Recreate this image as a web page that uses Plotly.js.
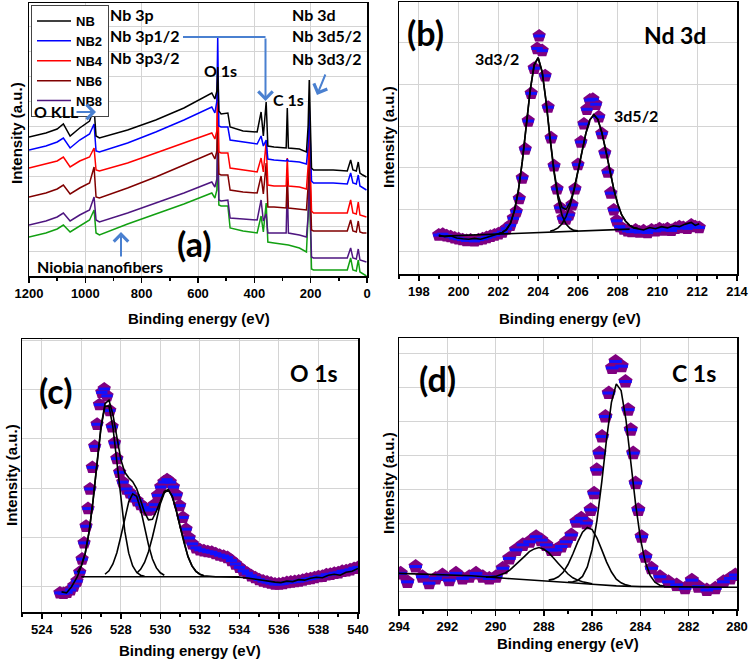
<!DOCTYPE html>
<html>
<head>
<meta charset="utf-8">
<script src="https://cdn.plot.ly/plotly-3.0.1.min.js"></script>
<style>
  html, body { margin: 0; padding: 0; background: #fff; }
  #chart { width: 750px; height: 662px; }
</style>
</head>
<body>
<div id="chart"></div>
<script>
// (a) survey spectra, binding energy (eV) and intensity (a.u., offset stacked)
const surveyBE = [1200,1140,1100,1078,1054,1020,985,969,962,950,850,750,650,551,540,533,530,526,518,494,486,440,390,376,368,358,352,330,287,283,279,240,215,209,205,197,190,120,70,58,50,38,31,25,15,2];
const surveyNB  = [139,143,147,152,140,148,155,168,140,138,146,156,168,183,177,185,209,165,162,163,149,145,144,164,140,174,130,129,128,168,128,127,124,150,196,108,106,106,105,116,106,105,114,103,101,99];
const surveyNB2 = [126,130,134,138,128,136,142,152,125,124,133,144,156,169,163,175,239,150,149,149,136,134,132,140,130,136,117,116,115,117,115,114,112,130,170,95,93,93,92,103,93,92,101,90,88,86];
const surveyNB4 = [108,112,115,119,109,115,119,128,106,105,113,123,133,143,137,145,200,124,123,123,108,106,104,118,104,134,91,90,90,118,90,89,87,110,150,65,63,63,63,76,63,62,74,61,60,59];
const surveyNB6 = [79,83,87,91,82,88,93,109,79,78,88,99,111,123,117,125,175,102,101,101,86,84,83,100,82,113,69,69,68,100,68,67,66,90,125,46,45,45,45,56,45,44,55,44,43,43];
const surveyNB8 = [51,55,59,63,55,61,66,79,56,54,63,73,83,94,89,97,150,76,75,76,58,57,56,76,55,62,43,43,43,91,43,41,39,60,100,19,18,18,18,28,18,17,27,16,15,14];
const surveyFiber = [39,43,47,51,44,50,56,66,43,41,52,62,72,83,78,86,134,71,70,70,48,45,43,60,44,73,34,33,31,31,31,28,24,60,93,7,6,6,6,18,6,5,16,4,2,0];

// (b) Nd 3d
const nd3dBE = [199.0,199.2,199.4,199.6,199.8,200.0,200.2,200.4,200.6,200.8,201.0,201.2,201.4,201.6,201.8,202.0,202.2,202.4,202.6,202.75,202.9,203.05,203.2,203.35,203.5,203.65,203.8,203.95,204.05,204.2,204.35,204.5,204.65,204.8,204.95,205.1,205.25,205.4,205.55,205.7,205.85,206.0,206.15,206.3,206.45,206.6,206.75,206.9,207.05,207.2,207.35,207.5,207.65,207.8,207.95,208.1,208.3,208.5,208.7,208.9,209.1,209.3,209.5,209.7,209.9,210.1,210.3,210.5,210.7,210.9,211.1,211.3,211.5,211.7,211.9,212.1];
const nd3dCounts = [0.40,0.42,0.38,0.36,0.33,0.31,0.29,0.27,0.28,0.26,0.29,0.31,0.34,0.37,0.40,0.43,0.47,0.55,0.63,0.80,0.96,1.27,1.76,2.45,3.12,3.78,4.38,4.85,5.15,4.80,4.20,3.45,2.72,2.05,1.50,1.05,0.80,0.78,0.88,1.12,1.50,2.08,2.62,3.05,3.40,3.62,3.64,3.52,3.22,2.82,2.36,1.90,1.40,1.00,0.74,0.60,0.54,0.50,0.48,0.52,0.47,0.50,0.46,0.52,0.50,0.55,0.52,0.55,0.51,0.56,0.60,0.58,0.56,0.64,0.60,0.58];
const nd3dPeak1BE = [202.0,202.2,202.4,202.6,202.8,203.0,203.2,203.4,203.6,203.8,204.0,204.2,204.4,204.6,204.8,205.0,205.2,205.4,205.6,205.8,206.0];
const nd3dPeak1 = [0.43,0.46,0.53,0.67,0.97,1.45,2.15,3.01,3.86,4.46,4.63,4.29,3.57,2.69,1.89,1.27,0.87,0.66,0.56,0.51,0.50];
const nd3dPeak2BE = [204.6,204.8,205.0,205.2,205.4,205.6,205.8,206.0,206.2,206.4,206.6,206.8,207.0,207.2,207.4,207.6,207.8,208.0,208.2,208.4,208.6,208.8,209.0];
const nd3dPeak2 = [0.49,0.52,0.57,0.67,0.84,1.10,1.46,1.90,2.39,2.83,3.15,3.27,3.16,2.85,2.42,1.94,1.50,1.14,0.88,0.73,0.63,0.58,0.56];
const nd3dEnvBE = [199.0,199.3,199.6,199.9,200.2,200.5,200.8,201.1,201.4,201.7,202.0,202.2,202.4,202.6,202.8,203.0,203.2,203.4,203.6,203.8,204.0,204.2,204.4,204.6,204.8,205.0,205.2,205.4,205.6,205.8,206.0,206.2,206.4,206.6,206.8,207.0,207.2,207.4,207.6,207.8,208.0,208.2,208.4,208.6,208.8,209.0,209.3,209.6,209.9,210.2,210.5,210.8,211.1,211.4,211.7,211.9,212.1];
const nd3dEnv = [0.40,0.36,0.38,0.33,0.31,0.30,0.32,0.30,0.34,0.38,0.43,0.46,0.53,0.67,0.97,1.45,2.15,3.01,3.86,4.46,4.63,4.29,3.58,2.71,1.93,1.36,1.06,1.01,1.17,1.48,1.91,2.39,2.83,3.15,3.27,3.16,2.85,2.42,1.94,1.50,1.14,0.88,0.73,0.63,0.57,0.55,0.52,0.58,0.55,0.60,0.57,0.62,0.60,0.66,0.70,0.63,0.67];
const nd3dBgBE = [199.0,208.6];
const nd3dBg = [0.37,0.54];

// (c) O 1s
const o1sBE = [524.92,525.1,525.28,525.46,525.62,525.78,525.92,526.04,526.14,526.24,526.34,526.44,526.56,526.68,526.8,526.92,527.04,527.16,527.3,527.44,527.56,527.68,527.8,527.94,528.1,528.28,528.46,528.64,528.82,529.0,529.18,529.36,529.54,529.7,529.86,530.02,530.18,530.34,530.5,530.66,530.82,530.98,531.14,531.3,531.46,531.62,531.8,532.0,532.2,532.4,532.6,532.8,533.0,533.2,533.4,533.6,533.8,534.0,534.2,534.4,534.6,534.8,535.0,535.2,535.4,535.6,535.8,536.0,536.2,536.4,536.6,536.8,537.0,537.2,537.4,537.6,537.8,538.0,538.2,538.4,538.6,538.8,539.0,539.2,539.4,539.6,539.8,540.0];
const o1sCounts = [-0.14,-0.15,-0.13,-0.08,0.00,0.10,0.28,0.55,0.88,1.22,1.58,1.98,2.42,2.85,3.30,3.70,3.95,4.02,3.88,3.58,3.25,2.92,2.60,2.32,2.12,1.98,1.90,1.82,1.74,1.66,1.60,1.55,1.56,1.66,1.85,2.02,2.12,2.17,2.12,2.02,1.86,1.64,1.40,1.16,0.98,0.86,0.78,0.74,0.72,0.70,0.69,0.66,0.63,0.61,0.58,0.52,0.45,0.38,0.31,0.26,0.21,0.17,0.13,0.10,0.08,0.06,0.04,0.04,0.05,0.07,0.08,0.09,0.10,0.12,0.14,0.15,0.17,0.19,0.20,0.23,0.24,0.26,0.27,0.30,0.31,0.33,0.36,0.38];
const o1sPeak1BE = [525.8,526.0,526.2,526.4,526.6,526.8,527.0,527.2,527.4,527.6,527.8,528.0,528.2,528.4,528.6,528.8,529.0,529.2];
const o1sPeak1 = [0.28,0.41,0.67,1.12,1.76,2.53,3.24,3.67,3.67,3.24,2.53,1.76,1.12,0.67,0.41,0.28,0.22,0.20];
const o1sPeak2BE = [527.2,527.4,527.6,527.8,528.0,528.2,528.4,528.6,528.8,529.0,529.2,529.4,529.6,529.8,530.0,530.2];
const o1sPeak2 = [0.24,0.31,0.45,0.68,1.01,1.39,1.72,1.88,1.83,1.57,1.20,0.84,0.55,0.37,0.27,0.22];
const o1sPeak3BE = [528.8,529.0,529.2,529.4,529.6,529.8,530.0,530.2,530.4,530.6,530.8,531.0,531.2,531.4,531.6,531.8,532.0,532.2];
const o1sPeak3 = [0.26,0.34,0.48,0.70,1.00,1.35,1.68,1.90,1.96,1.83,1.55,1.21,0.88,0.60,0.41,0.30,0.24,0.21];
const o1sEnvBE = [525.0,525.25,525.5,525.8,526.0,526.2,526.4,526.6,526.8,527.0,527.2,527.4,527.6,527.8,528.0,528.2,528.4,528.6,528.8,529.0,529.2,529.4,529.6,529.8,530.0,530.2,530.4,530.6,530.8,531.0,531.2,531.4,531.6,531.8,532.0,532.2,532.4,532.6,532.8,533.0,533.5,534.0,534.3,534.6,534.9,535.2,535.5,535.8,536.1,536.4,536.7,537.0,537.3,537.6,537.9,538.2,538.5,538.8,539.1,539.4,539.7,540.0];
const o1sEnv = [-0.12,-0.14,-0.02,0.19,0.41,0.67,1.12,1.76,2.53,3.26,3.72,3.79,3.50,3.02,2.58,2.32,2.21,2.13,1.99,1.75,1.50,1.35,1.36,1.53,1.75,1.93,1.97,1.83,1.55,1.21,0.88,0.60,0.41,0.30,0.24,0.21,0.20,0.19,0.19,0.19,0.19,0.18,0.17,0.15,0.14,0.12,0.10,0.08,0.07,0.10,0.09,0.13,0.12,0.16,0.18,0.17,0.22,0.24,0.22,0.28,0.30,0.36];
const o1sBgBE = [526.0,534.0];
const o1sBg = [0.19,0.19];

// (d) C 1s
const c1sBE = [293.93,293.65,293.31,293.03,292.75,292.48,292.2,291.92,291.64,291.37,291.09,290.81,290.53,290.26,289.98,289.7,289.43,289.15,288.87,288.59,288.32,288.11,287.9,287.69,287.49,287.28,287.07,286.86,286.65,286.45,286.24,286.06,285.92,285.81,285.7,285.59,285.45,285.31,285.17,285.03,284.78,284.62,284.51,284.4,284.3,284.2,284.09,283.95,283.79,283.54,283.19,282.84,282.5,282.15,281.87,281.6,281.25,280.9,280.56,280.28,280.07];
const c1sCounts = [0.54,0.29,0.74,0.44,0.25,0.39,0.49,0.34,0.54,0.39,0.44,0.54,0.44,0.39,0.44,0.69,0.98,1.23,1.38,1.47,1.62,1.52,1.38,1.23,1.23,1.33,1.47,1.67,2.06,2.16,2.02,2.41,2.90,3.59,4.08,4.57,5.16,5.85,6.59,6.78,6.64,6.19,5.36,4.77,4.08,3.20,2.41,1.62,1.03,0.69,0.44,0.29,0.20,0.10,0.34,0.15,0.05,0.10,0.29,0.39,0.49];
const c1sPeak1BE = [283.0,283.2,283.4,283.6,283.8,284.0,284.2,284.4,284.6,284.8,285.0,285.2,285.4,285.6,285.8,286.0,286.2,286.4,286.6,286.8,287.0];
const c1sPeak1 = [0.16,0.19,0.28,0.48,0.87,1.56,2.58,3.85,5.07,5.92,6.12,5.58,4.51,3.24,2.10,1.25,0.73,0.45,0.33,0.29,0.28];
const c1sPeak2BE = [284.4,284.6,284.8,285.0,285.2,285.4,285.6,285.8,286.0,286.2,286.4,286.6,286.8,287.0,287.2,287.4,287.6,287.8];
const c1sPeak2 = [0.17,0.20,0.26,0.37,0.58,0.87,1.23,1.58,1.83,1.89,1.75,1.46,1.11,0.80,0.57,0.44,0.37,0.34];
const c1sPeak3BE = [286.0,286.2,286.4,286.6,286.8,287.0,287.2,287.4,287.6,287.8,288.0,288.2,288.4,288.6,288.8,289.0,289.2,289.4,289.6,289.8,290.0,290.2,290.4];
const c1sPeak3 = [0.23,0.25,0.29,0.34,0.41,0.52,0.66,0.83,0.99,1.15,1.25,1.30,1.26,1.18,1.04,0.90,0.76,0.64,0.55,0.49,0.45,0.44,0.43];
const c1sBgBE = [294,291,289.5,288,287,286,285,284,282,280];
const c1sBg = [0.54,0.47,0.39,0.33,0.27,0.22,0.17,0.15,0.14,0.13];

const W = 750, H = 662;
const X = px => px / W;        // pixel -> paper
const Y = py => 1 - py / H;

const tickFont = { family: 'Liberation Sans, Arial, sans-serif', size: 13, color: '#000', weight: 'bold' };
const labelFont = 'Lato, Liberation Sans, sans-serif';
const purple = '#800080';
const arrowBlue = '#4a80d0';

function survey(y, name, color, showlegend) {
    return { x: surveyBE, y: y, name: name, type: 'scatter', mode: 'lines',
             line: { color: color, width: 1.5 }, xaxis: 'x', yaxis: 'y', showlegend: showlegend };
}

// purple pentagons with a blue dash inside, same points twice
function markers(x, y, ax, size) {
    return [
        { x: x, y: y, type: 'scatter', mode: 'markers', xaxis: 'x' + ax, yaxis: 'y' + ax, showlegend: false,
          marker: { symbol: 'pentagon', size: size, color: purple } },
        { x: x, y: y, type: 'scatter', mode: 'markers', xaxis: 'x' + ax, yaxis: 'y' + ax, showlegend: false,
          marker: { symbol: 'line-ew', size: size - 6, line: { color: '#1010ff', width: 3 } } }
    ];
}

function fitLine(x, y, ax) {
    return { x: x, y: y, type: 'scatter', mode: 'lines', xaxis: 'x' + ax, yaxis: 'y' + ax, showlegend: false,
             line: { color: '#000', width: 1.6 } };
}

const data = [
    survey(surveyFiber, 'Niobia nanofibers', '#12a012', false),
    survey(surveyNB8, 'NB8', '#4e1680', true),
    survey(surveyNB6, 'NB6', '#800000', true),
    survey(surveyNB4, 'NB4', '#ff0000', true),
    survey(surveyNB2, 'NB2', '#0000ff', true),
    survey(surveyNB, 'NB', '#000000', true),
    ...markers(nd3dBE, nd3dCounts, 2, 14),
    fitLine(nd3dBgBE, nd3dBg, 2),
    fitLine(nd3dPeak1BE, nd3dPeak1, 2),
    fitLine(nd3dPeak2BE, nd3dPeak2, 2),
    fitLine(nd3dEnvBE, nd3dEnv, 2),
    ...markers(o1sBE, o1sCounts, 3, 14),
    fitLine(o1sBgBE, o1sBg, 3),
    fitLine(o1sPeak1BE, o1sPeak1, 3),
    fitLine(o1sPeak2BE, o1sPeak2, 3),
    fitLine(o1sPeak3BE, o1sPeak3, 3),
    fitLine(o1sEnvBE, o1sEnv, 3),
    ...markers(c1sBE, c1sCounts, 4, 15),
    fitLine(c1sBgBE, c1sBg, 4),
    fitLine(c1sPeak1BE, c1sPeak1, 4),
    fitLine(c1sPeak2BE, c1sPeak2, 4),
    fitLine(c1sPeak3BE, c1sPeak3, 4)
];

function xAxis(left, right, range, dtick, anchor) {
    return {
        domain: [X(left), X(right)], range: range, anchor: anchor,
        dtick: dtick, tick0: 0, ticks: 'outside', ticklen: 5, tickwidth: 1.5, tickcolor: '#000',
        minor: { dtick: dtick / 2, ticks: 'outside', ticklen: 3, tickcolor: '#000', showgrid: false },
        showline: true, mirror: true, linecolor: '#000', linewidth: 1.5,
        showgrid: true, gridcolor: '#d4d4d4', gridwidth: 1, zeroline: false,
        tickfont: tickFont
    };
}

function yAxis(top, bottom, range, dtick, anchor) {
    return {
        domain: [Y(bottom), Y(top)], range: range, anchor: anchor,
        dtick: dtick, tick0: 0, ticks: '', showticklabels: false,
        showline: true, mirror: true, linecolor: '#000', linewidth: 1.5,
        showgrid: true, gridcolor: '#d4d4d4', gridwidth: 1, zeroline: false
    };
}

function label(text, px, py, size, anchor) {
    return { text: text, x: X(px), y: Y(py), xref: 'paper', yref: 'paper', showarrow: false,
             xanchor: anchor || 'center', yanchor: 'middle',
             font: { family: labelFont, size: size, color: '#000', weight: 'bold' } };
}

function axisTitle(text, px, py, angle) {
    return { text: text, x: X(px), y: Y(py), xref: 'paper', yref: 'paper', showarrow: false,
             xanchor: 'center', yanchor: 'middle', textangle: angle || 0,
             font: { family: 'Liberation Sans, Arial, sans-serif', size: 15, color: '#000', weight: 'bold' } };
}

// arrow from tail (tx, ty) to head (hx, hy), pixel positions
function arrow(hx, hy, tx, ty) {
    return { text: '', x: X(hx), y: Y(hy), xref: 'paper', yref: 'paper', showarrow: true,
             ax: tx - hx, ay: ty - hy, arrowhead: 4, arrowsize: 1.4, arrowwidth: 2, arrowcolor: arrowBlue };
}

const annotations = [
    // (a)
    label('Nb 3p', 108, 15, 16, 'left'),
    label('Nb 3p1/2', 108, 36, 16, 'left'),
    label('Nb 3p3/2', 108, 57, 16, 'left'),
    label('Nb 3d', 290, 15, 16, 'left'),
    label('Nb 3d5/2', 290, 36, 16, 'left'),
    label('Nb 3d3/2', 290, 58, 16, 'left'),
    label('O 1s', 220, 70, 16),
    label('C 1s', 288, 100, 16),
    label('O KLL', 32, 111, 16, 'left'),
    label('(a)', 194, 243, 34),
    label('Niobia nanofibers', 35, 267, 16, 'left'),
    arrow(96, 112, 75, 112),
    arrow(265.5, 101, 265.5, 37),
    arrow(317, 95, 326, 73),
    arrow(121, 232, 121, 258),
    // (b)
    label('(b)', 425, 33, 34),
    label('Nd 3d', 675, 35, 23),
    label('3d3/2', 497, 58, 16),
    label('3d5/2', 636, 116, 16),
    // (c)
    label('(c)', 55, 390, 34),
    label('O 1s', 314, 373, 23),
    // (d)
    label('(d)', 437, 378, 34),
    label('C 1s', 694, 373, 23),
    // axis titles
    axisTitle('Binding energy (eV)', 199, 319),
    axisTitle('Binding energy (eV)', 570, 318),
    axisTitle('Binding energy (eV)', 190, 650),
    axisTitle('Binding energy (eV)', 568, 643),
    axisTitle('Intensity (a.u.)', 17, 133, -90),
    axisTitle('Intensity (a.u.)', 388, 137, -90),
    axisTitle('Intensity (a.u.)', 11, 475, -90),
    axisTitle('Intensity (a.u.)', 388, 483, -90)
];

const layout = {
    width: W, height: H,
    margin: { l: 0, r: 0, t: 0, b: 0 },
    paper_bgcolor: '#fff', plot_bgcolor: '#fff',
    showlegend: true,
    legend: {
        x: X(31), y: Y(5), xanchor: 'left', yanchor: 'top',
        bgcolor: '#fff', bordercolor: '#444', borderwidth: 1,
        traceorder: 'reversed', itemwidth: 34, tracegroupgap: 0,
        font: { family: 'Liberation Sans, Arial, sans-serif', size: 13, color: '#000', weight: 'bold' }
    },
    xaxis:  xAxis(29, 367, [1200, 0], 200, 'y'),
    yaxis:  yAxis(3, 276, [0, 273], 25, 'x'),
    xaxis2: xAxis(399, 737, [197, 214], 2, 'y2'),
    yaxis2: yAxis(2, 274, [-0.53, 5.96], 1, 'x2'),
    xaxis3: xAxis(22, 358, [523, 540], 2, 'y3'),
    yaxis3: yAxis(339, 612, [-0.53, 5.04], 1, 'x3'),
    xaxis4: xAxis(399, 737, [294, 280], 2, 'y4'),
    yaxis4: yAxis(338, 609, [-0.51, 7.47], 1, 'x4'),
    shapes: [
        // horizontal leg of the Nb 3p1/2 pointer
        { type: 'line', xref: 'paper', yref: 'paper', x0: X(183), y0: Y(37), x1: X(265.5), y1: Y(37),
          line: { color: arrowBlue, width: 2 } }
    ],
    annotations: annotations
};

Plotly.newPlot('chart', data, layout, { staticPlot: true });
</script>
</body>
</html>
